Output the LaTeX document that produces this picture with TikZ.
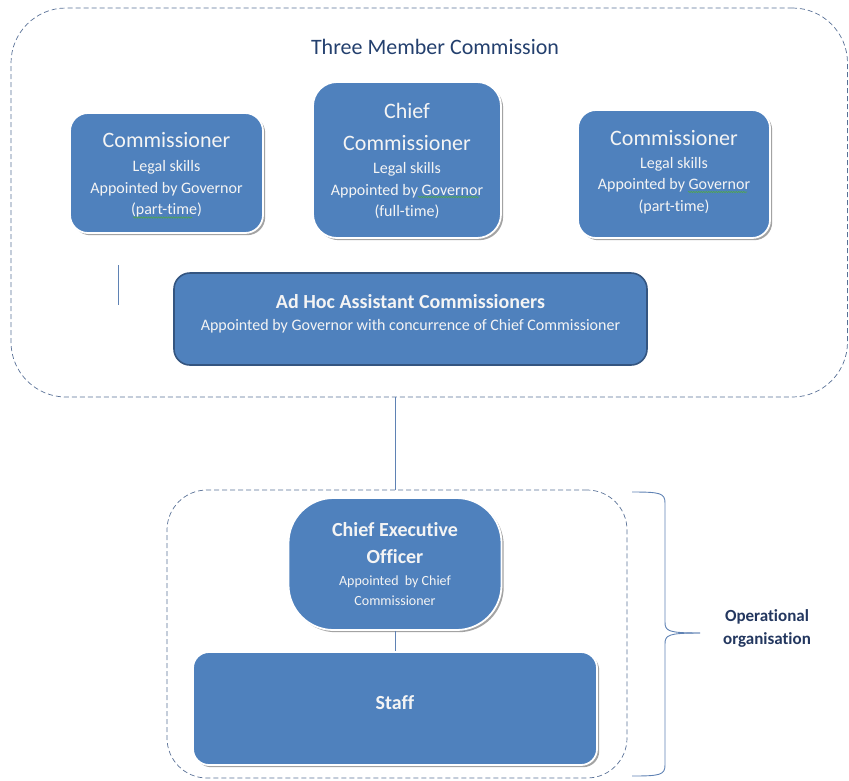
\documentclass[tikz,border=0pt]{standalone}
\usepackage{fontspec}
\setmainfont{Carlito}[Ligatures=CommonOff]
\usetikzlibrary{shadows,decorations.pathmorphing}
\definecolor{boxblue}{RGB}{79,129,189}
\definecolor{adhocborder}{RGB}{52,85,128}
\definecolor{dashcol}{RGB}{88,112,150}
\definecolor{linecol}{RGB}{95,130,180}
\definecolor{titleblue}{RGB}{36,64,110}
\definecolor{navy}{RGB}{35,55,95}
\definecolor{squig}{RGB}{80,165,80}
\definecolor{boxtext}{RGB}{244,244,244}
\begin{document}
\begin{tikzpicture}[x=1pt,y=-1pt,
  topbox/.style={fill=boxblue, draw=white, line width=1.8pt,
    drop shadow={shadow xshift=2.2pt, shadow yshift=-2.2pt, fill=black!45, opacity=0.8}},
  adhocbox/.style={fill=boxblue, draw=adhocborder, line width=1.6pt},
  dashbox/.style={draw=dashcol, line width=0.7pt, dash pattern=on 5pt off 3pt},
  conn/.style={draw=linecol, line width=0.8pt},
  boxtxt/.style={text=boxtext, align=center, inner sep=0pt},
  spell/.style={draw=squig, line width=0.6pt, decorate, decoration={snake, amplitude=0.7pt, segment length=2.5pt}}
]
\useasboundingbox (0,0) rectangle (849,780);

% containers
\node[dashbox, rounded corners=55pt, minimum width=836.5pt, minimum height=389pt, inner sep=0pt] (commission) at (429.25,202.5) {};
\node[dashbox, rounded corners=40pt, minimum width=460pt, minimum height=288pt, inner sep=0pt] (ops) at (397,634) {};

% title
\node[text=titleblue, font=\fontsize{22}{26}\selectfont, inner sep=0pt] (title) at (435,47) {Three Member Commission};

% top boxes
\node[topbox, rounded corners=18pt, minimum width=193pt, minimum height=120pt, inner sep=0pt] (c1) at (166.5,173) {};
\node[topbox, rounded corners=24pt, minimum width=188pt, minimum height=156pt, inner sep=0pt] (cc) at (407,160) {};
\node[topbox, rounded corners=18pt, minimum width=192pt, minimum height=128pt, inner sep=0pt] (c2) at (674,174) {};

\node[boxtxt, font=\fontsize{16}{21.5}\selectfont] (c1t) at (166.5,175) {{\fontsize{22}{21.5}\selectfont Commissioner}\\[2.5pt]Legal skills\\Appointed by Governor\\(part-time)};
\node[boxtxt, font=\fontsize{16}{21.5}\selectfont] (cct) at (407,161) {{\fontsize{22}{21.5}\selectfont Chief}\\[10.5pt]{\fontsize{22}{21.5}\selectfont Commissioner}\\[1.5pt]Legal skills\\Appointed by Governor\\(full-time)};
\node[boxtxt, font=\fontsize{16}{21.5}\selectfont] (c2t) at (674,172) {{\fontsize{22}{21.5}\selectfont Commissioner}\\[1.5pt]Legal skills\\Appointed by Governor\\(part-time)};

% spell-check marks
\coordinate (sq1a) at (133,217.5); \coordinate (sq1b) at (192,217.5);
\coordinate (sq2a) at (418,197); \coordinate (sq2b) at (479,197);
\coordinate (sq3a) at (688,192); \coordinate (sq3b) at (747,192);
\draw[spell] (sq1a) -- (sq1b);
\draw[spell] (sq2a) -- (sq2b);
\draw[spell] (sq3a) -- (sq3b);

% small line
\coordinate (sl1) at (118,265); \coordinate (sl2) at (118,305);
\draw[conn] (sl1) -- (sl2);

% ad hoc
\node[adhocbox, rounded corners=16pt, minimum width=473pt, minimum height=92pt, inner sep=0pt] (adhoc) at (410.5,319) {};
\node[boxtxt, font=\fontsize{16}{21.5}\selectfont] (adhoct) at (410.5,314) {{\bfseries\fontsize{20}{21.5}\selectfont Ad Hoc Assistant Commissioners}\\Appointed by Governor with concurrence of Chief Commissioner};

% operational organisation
\node[topbox, rounded corners=45pt, minimum width=213pt, minimum height=132pt, inner sep=0pt] (ceo) at (395,564) {};
\node[boxtxt, font=\fontsize{14}{20}\selectfont] (ceot) at (395,564) {{\bfseries\fontsize{20}{20}\selectfont Chief Executive}\\[7pt]{\bfseries\fontsize{20}{20}\selectfont Officer}\\[2.5pt]Appointed~ by Chief\\Commissioner};
\node[topbox, rounded corners=16pt, minimum width=404pt, minimum height=113pt, inner sep=0pt] (staff) at (395,708.5) {};
\node[boxtxt, font=\bfseries\fontsize{20}{24}\selectfont] (stafft) at (395,703) {Staff};

% connectors
\draw[conn] (commission.south -| staff.north) -- (ops.north -| staff.north);
\draw[conn] (ceo.south) -- (staff.north);

% brace
\coordinate (bt) at (632,492);
\coordinate (bm) at (700,633);
\coordinate (bb) at (632,776);
\draw[conn, line width=0.9pt] (bt) .. controls (660,492) and (665,493) .. (665,503) -- (665,622) .. controls (665,631) and (668,633) .. (bm);
\draw[conn, line width=0.9pt] (bm) .. controls (668,633) and (665,635) .. (665,644) -- (665,765) .. controls (665,775) and (660,776) .. (bb);
\node[text=navy, font=\bfseries\fontsize{17}{23}\selectfont, align=center, inner sep=0pt] (oplabel) at (767,628) {Operational\\organisation};
\end{tikzpicture}
\end{document}
